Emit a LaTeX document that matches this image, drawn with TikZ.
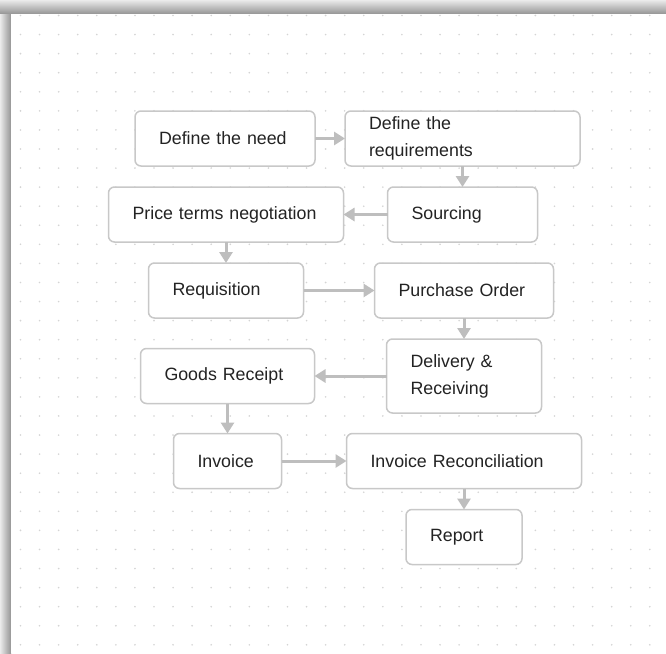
\documentclass[tikz,border=0pt]{standalone}
\usepackage{fontspec}
\setmainfont{Liberation Sans}
\usetikzlibrary{positioning,arrows.meta}

\definecolor{boxgray}{RGB}{200,200,200}
\definecolor{arrowgray}{RGB}{190,190,190}
\definecolor{textgray}{RGB}{35,35,35}
\definecolor{dotgray}{RGB}{212,212,212}

\tikzset{
  procbox/.style={draw=boxgray, line width=1.5pt, rounded corners=6pt, fill=white,
    text=textgray, align=left, inner xsep=24pt, inner ysep=0pt, outer sep=0pt,
    minimum height=55pt, font=\fontsize{17.8}{27}\selectfont},
  flow/.style={draw=arrowgray, line width=3pt, -{Triangle[length=11pt,width=13pt]}}
}

\begin{document}
\begin{tikzpicture}[x=1pt,y=-1pt]
  \useasboundingbox (0,0) rectangle (666,653);
  % shadow round the canvas
  \shade[top color=black!8, bottom color=black!42] (0,0) rectangle (666,14);
  \shade[left color=black!8, right color=black!42] (0,14) rectangle (11,653);
  \fill[white] (11,14) rectangle (666,653);
  % dot grid
  \foreach \i in {0,...,33}
    \foreach \j in {0,...,33}
      \fill[dotgray] (20.5+19.07*\i,15.5+19.07*\j) circle (0.9pt);

  \node[procbox, text width=132pt, anchor=north west] (need) at (135,111) {Define the need};
  \node[procbox, text width=187pt, right=30pt of need] (req) {Define the\\requirements};
  \node[procbox, text width=102pt, below=21pt of req] (sourc) {Sourcing};
  \node[procbox, text width=187pt, left=44pt of sourc] (price) {Price terms negotiation};
  \node[procbox, text width=107pt, below=21pt of price] (requis) {Requisition};
  \node[procbox, text width=131pt, right=71pt of requis] (po) {Purchase Order};
  \node[procbox, text width=107pt, minimum height=74pt, below=21pt of po] (deliv) {Delivery \&\\Receiving};
  \node[procbox, text width=126pt, left=72pt of deliv] (goods) {Goods Receipt};
  \node[procbox, text width=60pt, below=30pt of goods] (inv) {Invoice};
  \node[procbox, text width=187pt, right=65pt of inv] (recon) {Invoice Reconciliation};
  \node[procbox, text width=68pt, below=21pt of recon] (report) {Report};

  \draw[flow] (need) -- (req);
  \draw[flow] (req) -- (sourc);
  \draw[flow] (sourc) -- (price);
  \draw[flow] (price) -- (requis);
  \draw[flow] (requis) -- (po);
  \draw[flow] (po) -- (deliv);
  \draw[flow] (deliv) -- (goods);
  \draw[flow] (goods) -- (inv);
  \draw[flow] (inv) -- (recon);
  \draw[flow] (recon) -- (report);
\end{tikzpicture}
\end{document}
